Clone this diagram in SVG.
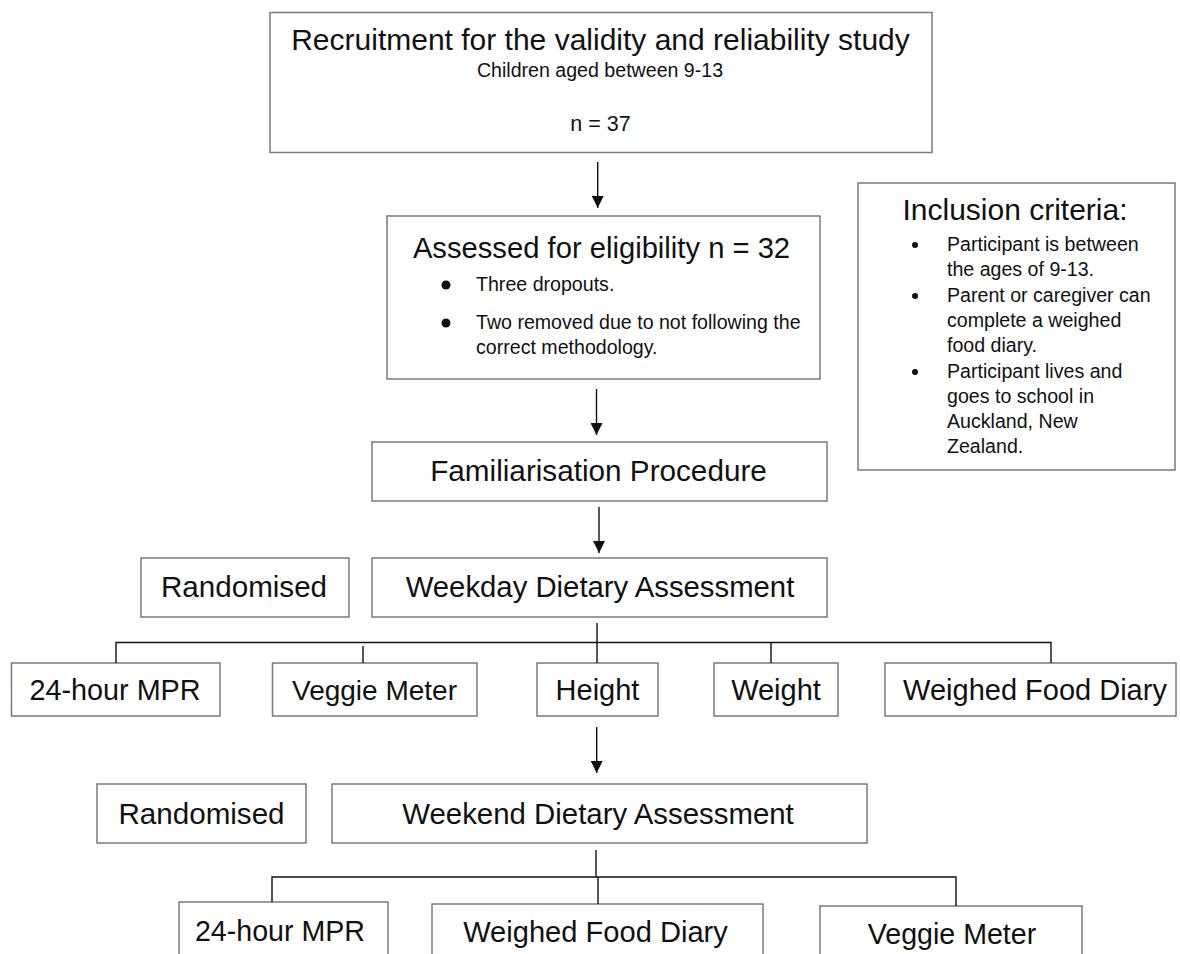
<svg xmlns="http://www.w3.org/2000/svg" width="1180" height="954" viewBox="0 0 1180 954">
<defs>
<style>
.box{fill:#ffffff;stroke:#7a7a7a;stroke-width:1.5}
.t{font-family:"Liberation Sans",Arial,sans-serif;fill:#111111}
.c{text-anchor:middle}
.big{font-size:29.3px}
.sm{font-size:19.6px}
.ln{stroke:#111111;stroke-width:1.4;fill:none}
.dot{fill:#111111}
</style>
<marker id="ah" markerUnits="userSpaceOnUse" markerWidth="12" markerHeight="12" refX="12" refY="6" orient="auto">
<path d="M0,0 L12,6 L0,12 z" fill="#111111"/>
</marker>
</defs>
<rect width="1180" height="954" fill="#ffffff"/>

<g id="recruitment">
<rect class="box" x="270" y="12.5" width="662" height="140"/>
<text class="t c" x="600.5" y="50" font-size="30">Recruitment for the validity and reliability study</text>
<text class="t c sm" x="600" y="77" font-size="19">Children aged between 9-13</text>
<text class="t c" x="600.5" y="131" font-size="21.5">n = 37</text>
</g>

<g id="inclusion">
<rect class="box" x="858" y="183" width="317" height="287"/>
<text class="t c" x="1015" y="220" font-size="30">Inclusion criteria:</text>
<circle class="dot" cx="915" cy="245" r="3"/>
<text class="t sm" x="947" y="251">Participant is between</text>
<text class="t sm" x="947" y="276">the ages of 9-13.</text>
<circle class="dot" cx="915" cy="296" r="3"/>
<text class="t sm" x="947" y="302">Parent or caregiver can</text>
<text class="t sm" x="947" y="327">complete a weighed</text>
<text class="t sm" x="947" y="352">food diary.</text>
<circle class="dot" cx="915" cy="372" r="3"/>
<text class="t sm" x="947" y="378">Participant lives and</text>
<text class="t sm" x="947" y="403">goes to school in</text>
<text class="t sm" x="947" y="428">Auckland, New</text>
<text class="t sm" x="947" y="453">Zealand.</text>
</g>

<g id="eligibility">
<rect class="box" x="387" y="216" width="433" height="163"/>
<text class="t c" x="601.5" y="258" font-size="29.2">Assessed for eligibility n = 32</text>
<circle class="dot" cx="446" cy="285" r="4.5"/>
<text class="t sm" x="476" y="291">Three dropouts.</text>
<circle class="dot" cx="446" cy="323" r="4.5"/>
<text class="t sm" x="476" y="329">Two removed due to not following the</text>
<text class="t sm" x="476" y="354">correct methodology.</text>
</g>

<g id="familiarisation">
<rect class="box" x="372" y="442" width="455" height="59"/>
<text class="t c" x="598.5" y="481" font-size="29.7">Familiarisation Procedure</text>
</g>

<g id="randomised1">
<rect class="box" x="141" y="558" width="208" height="59"/>
<text class="t c" x="244" y="597" font-size="29.6">Randomised</text>
</g>

<g id="weekday">
<rect class="box" x="372" y="558" width="455" height="59"/>
<text class="t c big" x="600" y="597">Weekday Dietary Assessment</text>
</g>

<g id="wd-mpr">
<rect class="box" x="11.5" y="663" width="208.5" height="53"/>
<text class="t c" x="115" y="700" font-size="28.8">24-hour MPR</text>
</g>
<g id="wd-veggie">
<rect class="box" x="272.5" y="663" width="204.5" height="53"/>
<text class="t c" x="374.5" y="700" font-size="28">Veggie Meter</text>
</g>
<g id="wd-height">
<rect class="box" x="537" y="663" width="121" height="53"/>
<text class="t c" x="597.5" y="700" font-size="29">Height</text>
</g>
<g id="wd-weight">
<rect class="box" x="714" y="663" width="124" height="53"/>
<text class="t c" x="776" y="700" font-size="29">Weight</text>
</g>
<g id="wd-wfd">
<rect class="box" x="885" y="663" width="291" height="53"/>
<text class="t c" x="1035" y="700" font-size="29">Weighed Food Diary</text>
</g>

<g id="randomised2">
<rect class="box" x="97" y="784" width="209" height="59"/>
<text class="t c" x="201.5" y="824" font-size="29.6">Randomised</text>
</g>

<g id="weekend">
<rect class="box" x="332" y="784" width="535" height="59"/>
<text class="t c" x="598" y="824" font-size="29.4">Weekend Dietary Assessment</text>
</g>

<g id="we-mpr">
<rect class="box" x="179" y="902" width="209" height="70"/>
<text class="t c" x="280" y="941" font-size="28.6">24-hour MPR</text>
</g>
<g id="we-wfd">
<rect class="box" x="432" y="904" width="331" height="70"/>
<text class="t c" x="595.5" y="942" font-size="29.1">Weighed Food Diary</text>
</g>
<g id="we-veggie">
<rect class="box" x="820" y="906" width="262" height="70"/>
<text class="t c" x="952" y="944" font-size="28.6">Veggie Meter</text>
</g>

<g id="connectors">
<line class="ln" x1="597.7" y1="162" x2="597.7" y2="208" marker-end="url(#ah)"/>
<line class="ln" x1="596.5" y1="389" x2="596.5" y2="435" marker-end="url(#ah)"/>
<line class="ln" x1="599" y1="507" x2="599" y2="553" marker-end="url(#ah)"/>
<line class="ln" x1="597" y1="623" x2="597" y2="663"/>
<polyline class="ln" points="116,663 116,642.5 1051,642.5 1051,663"/>
<line class="ln" x1="363" y1="646" x2="363" y2="663"/>
<line class="ln" x1="771" y1="642.5" x2="771" y2="663"/>
<line class="ln" x1="596.7" y1="727" x2="596.7" y2="773" marker-end="url(#ah)"/>
<line class="ln" x1="596" y1="850" x2="596" y2="877"/>
<polyline class="ln" points="272,902 272,877 956,877 956,906"/>
<line class="ln" x1="598" y1="877" x2="598" y2="904"/>
</g>
</svg>
